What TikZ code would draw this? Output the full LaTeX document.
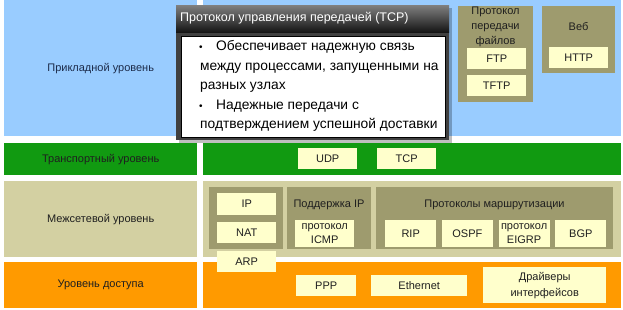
\documentclass[tikz,border=0pt]{standalone}
\usepackage{fontspec}
\setmainfont{Liberation Sans}
\definecolor{appcol}{HTML}{99CCFF}
\definecolor{trcol}{HTML}{119A11}
\definecolor{netcol}{HTML}{D3D0A2}
\definecolor{acccol}{HTML}{FF9A00}
\definecolor{grpcol}{HTML}{9E9B6E}
\definecolor{cream}{HTML}{FFFFCC}
\definecolor{navy}{HTML}{1C2B4A}

\begin{document}
\begin{tikzpicture}[x=1pt, y=-1pt, font=\fontsize{11}{13}\selectfont,
  band/.style={inner sep=0pt, text=black!88},
  grp/.style={fill=grpcol, inner sep=0pt},
  proto/.style={fill=cream, inner sep=0pt, align=center, text=black!88},
  small/.style={font=\fontsize{11}{14}\selectfont},
  gtitle/.style={inner sep=0pt, align=center, text=black!88, font=\fontsize{11}{15}\selectfont},
  tipline/.style={anchor=mid west, inner sep=0pt, font=\fontsize{13.8}{16}\selectfont}]
\useasboundingbox (0,0) rectangle (623,310);
% block from (x1,y1) to (x2,y2), pixel units
\newcommand{\blk}[7]{\node[#6, anchor=north west, minimum width=#4pt-#2pt,
  minimum height=#5pt-#3pt] (#1) at (#2,#3) {#7};}

% layers
\blk{appL}{4}{0}{197}{136}{band, fill=appcol, text=navy}{Прикладной уровень}
\blk{appR}{203}{0}{621}{136}{band, fill=appcol}{}
\blk{trL}{4}{143}{197}{175}{band, fill=trcol}{Транспортный уровень}
\blk{trR}{203}{143}{621}{175}{band, fill=trcol}{}
\blk{netL}{4}{181}{197}{257}{band, fill=netcol}{Межсетевой уровень}
\blk{netR}{203}{181}{621}{257}{band, fill=netcol}{}
\blk{accL}{4}{262}{197}{308}{band, fill=acccol}{Уровень доступа}
\blk{accR}{203}{262}{621}{308}{band, fill=acccol}{}

% application
\blk{ftpG}{458}{6}{533}{102}{grp}{}
\node[gtitle] (ftpT) at (495.5,27) {Протокол\\передачи\\файлов};
\blk{ftp}{467}{48}{526}{69}{proto}{FTP}
\blk{tftp}{467}{75}{526}{96}{proto}{TFTP}
\blk{webG}{542}{6}{615}{73}{grp}{}
\node[gtitle] (webT) at (578.5,27) {Веб};
\blk{http}{549}{47}{608}{68}{proto}{HTTP}

% transport
\blk{udp}{298}{148}{357}{169}{proto}{UDP}
\blk{tcp}{377}{148}{436}{169}{proto}{TCP}

% internet
\blk{ipG}{209}{187}{283}{249}{grp}{}
\blk{ip}{217}{193}{276}{215}{proto}{IP}
\blk{nat}{217}{222}{276}{243}{proto}{NAT}
\blk{supG}{287}{187}{371}{249}{grp}{}
\node[gtitle] (supT) at (329,205) {Поддержка IP};
\blk{icmp}{295}{220}{354}{247}{proto, small}{протокол\\ICMP}
\blk{rtG}{376}{187}{613}{249}{grp}{}
\node[gtitle] (rtT) at (494.5,205) {Протоколы маршрутизации};
\foreach \n/\t [count=\i] in {rip/RIP, ospf/OSPF, eigrp/{протокол\\EIGRP}, bgp/BGP}
  \node[proto, small, anchor=north west, minimum width=51pt, minimum height=27pt]
    (\n) at (385+56.7*\i-56.7,220) {\t};

% access
\blk{ppp}{296}{275}{356}{296}{proto}{PPP}
\blk{eth}{371}{275}{467}{296}{proto}{Ethernet}
\blk{drv}{483}{267}{606}{303}{proto, font=\fontsize{11}{16}\selectfont}{Драйверы\\интерфейсов}
\blk{arp}{217}{251}{276}{272}{proto}{ARP}

% TCP popup
\fill[black, opacity=.25] (179,8) rectangle (452,143);
\blk{tip}{176}{5}{449}{140}{fill=black!75, inner sep=0pt}{}
\blk{tipH}{176}{5}{449}{32}{top color=black!50, bottom color=black!92, inner sep=0pt}{}
\node[anchor=mid west, inner sep=0pt, text=white, font=\fontsize{12.5}{14}\selectfont]
  (tipT) at (180,19) {Протокол управления передачей (TCP)};
\blk{tipB}{181}{36}{445}{137}{draw=black, fill=white, inner sep=0pt}{}
\foreach \t/\x [count=\i] in {Обеспечивает надежную связь/216,
    {между процессами, запущенными на}/200, разных узлах/200,
    Надежные передачи с/216, подтверждением успешной доставки/200}
  \node[tipline] (line\i) at (\x,48+19.5*\i-19.5) {\t};
\node[tipline, font=\fontsize{10}{12}\selectfont] (bul1) at (199,48) {\textbullet};
\node[tipline, font=\fontsize{10}{12}\selectfont] (bul2) at (199,106.5) {\textbullet};
\end{tikzpicture}
\end{document}
